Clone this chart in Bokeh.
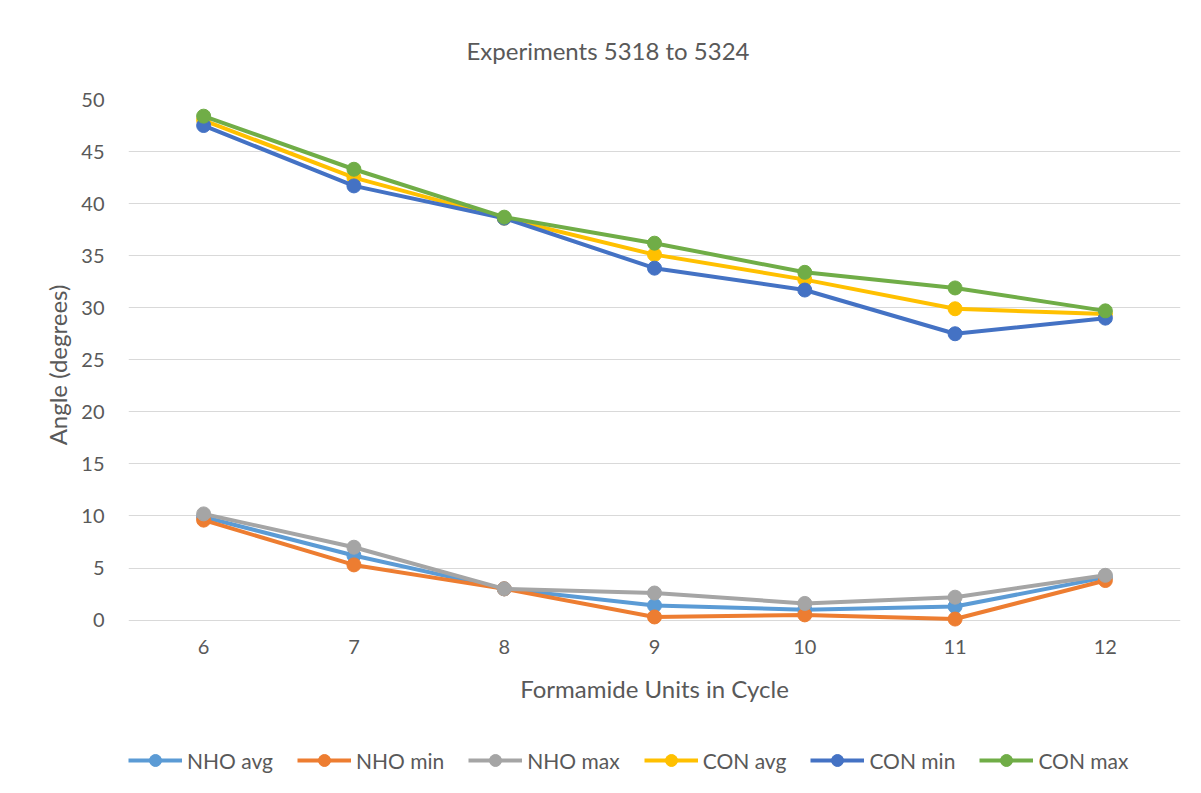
from bokeh.plotting import figure
from bokeh.layouts import column
from bokeh.models import Range1d, FactorRange, FixedTicker, Legend, LegendItem
from bokeh.embed import file_html
from bokeh.resources import INLINE

categories = ["6", "7", "8", "9", "10", "11", "12"]
nho_avg = [9.9, 6.2, 3.0, 1.4, 1.0, 1.3, 4.1]
nho_min = [9.6, 5.3, 3.0, 0.3, 0.5, 0.1, 3.8]
nho_max = [10.2, 7.0, 3.0, 2.6, 1.6, 2.2, 4.3]
con_avg = [48.0, 42.5, 38.6, 35.1, 32.7, 29.9, 29.4]
con_min = [47.5, 41.7, 38.6, 33.8, 31.7, 27.5, 29.0]
con_max = [48.4, 43.3, 38.7, 36.2, 33.4, 31.9, 29.7]
y_ticks = [0, 5, 10, 15, 20, 25, 30, 35, 40, 45, 50]

series = [
    ("NHO avg", nho_avg, "#5B9BD5"),
    ("NHO min", nho_min, "#ED7D31"),
    ("NHO max", nho_max, "#A5A5A5"),
    ("CON avg", con_avg, "#FFC000"),
    ("CON min", con_min, "#4472C4"),
    ("CON max", con_max, "#70AD47"),
]

FONT = "Lato"
TXT = "#595959"

p = figure(width=1200, height=725,
           x_range=FactorRange(*categories), y_range=Range1d(-1.0, 50),
           output_backend="svg", toolbar_location=None,
           min_border_left=128, min_border_right=20,
           min_border_top=99, min_border_bottom=95)
p.outline_line_color = None
p.xgrid.grid_line_color = None
p.ygrid.grid_line_color = "#d9d9d9"
p.ygrid.grid_line_width = 1
p.yaxis.ticker = FixedTicker(ticks=y_ticks)

p.title.text = "Experiments 5318 to 5324"
p.title.align = "left"
p.title.vertical_align = "middle"
p.title.offset = 338
p.title.standoff = 68
p.title.text_font = FONT
p.title.text_font_size = "24px"
p.title.text_font_style = "normal"
p.title.text_color = TXT

for ax in (p.xaxis[0], p.yaxis[0]):
    ax.axis_line_color = None
    ax.major_tick_line_color = None
    ax.minor_tick_line_color = None
    ax.major_label_text_font = FONT
    ax.major_label_text_font_size = "20px"
    ax.major_label_text_color = TXT
    ax.axis_label_text_font = FONT
    ax.axis_label_text_font_size = "24px"
    ax.axis_label_text_font_style = "normal"
    ax.axis_label_text_color = TXT

p.xaxis.axis_label = "Formamide Units in Cycle"
p.yaxis.axis_label = "Angle (degrees)"
p.xaxis.major_label_standoff = 3
p.xaxis.axis_label_standoff = 17
p.yaxis.major_label_standoff = 18
p.yaxis.axis_label_standoff = 6

for name, vals, color in series:
    p.line(categories, vals, line_color=color, line_width=4)
    p.scatter(categories, vals, size=14, fill_color=color, line_color=color)

# legend strip below the chart: same series, drawn outside this strip's range
q = figure(width=1200, height=67, x_range=FactorRange(*categories),
           y_range=Range1d(100, 101),
           output_backend="svg", toolbar_location=None,
           x_axis_location=None, y_axis_location=None, min_border=0)
q.outline_line_color = None
q.grid.visible = False
items = []
for name, vals, color in series:
    r1 = q.line(categories, vals, line_color=color, line_width=4)
    r2 = q.scatter(categories, vals, size=12, fill_color=color, line_color=color)
    items.append(LegendItem(label=name, renderers=[r1, r2]))

legend = Legend(items=items, orientation="horizontal", location=(0, 17),
                padding=0, margin=0, spacing=24, glyph_width=54, glyph_height=30,
                label_standoff=5, label_text_font=FONT, label_text_font_size="21px",
                label_text_color=TXT, border_line_color=None, background_fill_alpha=0)
q.add_layout(legend)

layout = column(p, q, spacing=0)
open("out.html", "w").write(file_html(layout, INLINE))
